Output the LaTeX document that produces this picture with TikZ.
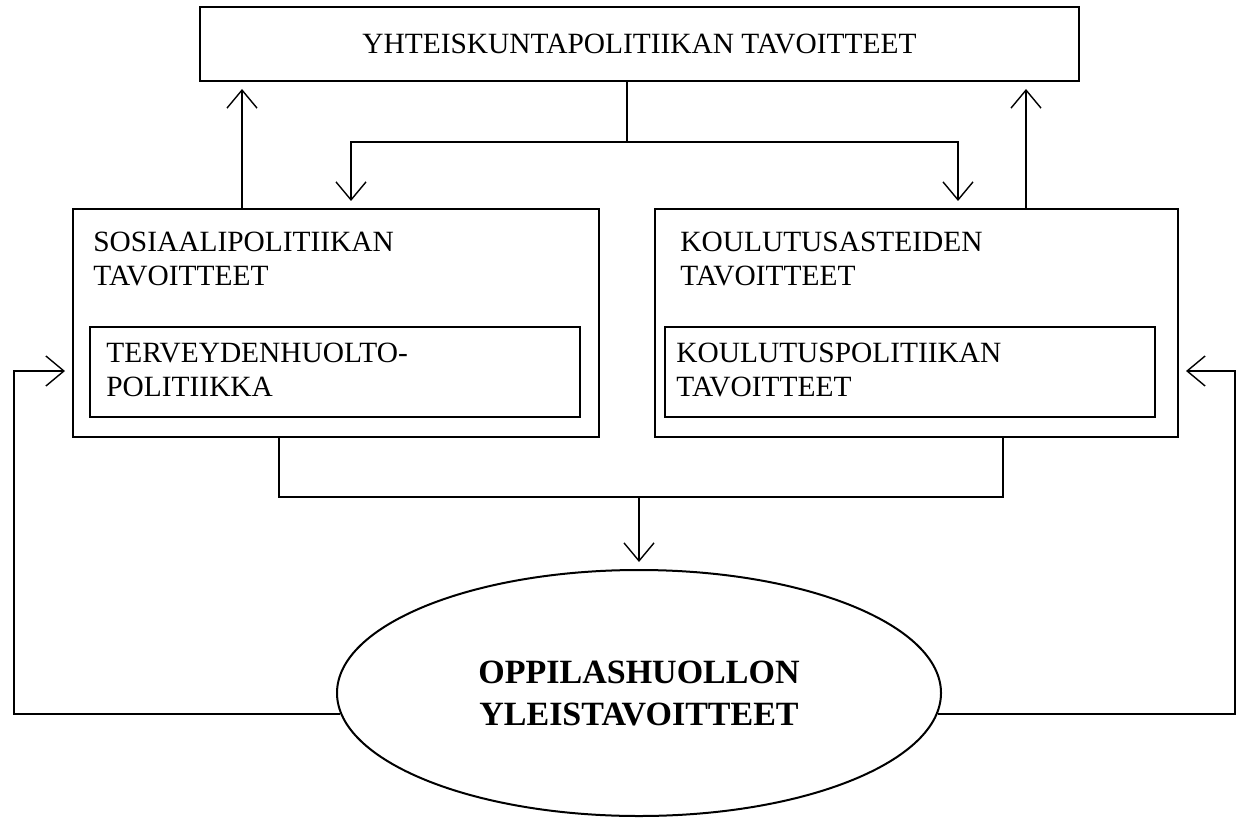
\documentclass[tikz,border=0pt]{standalone}
\usepackage{fontspec}
\setmainfont{Liberation Serif}
\usetikzlibrary{arrows.meta,shapes.geometric}

\tikzset{
  box/.style={draw, line width=1pt, inner sep=0pt},
  txt/.style={inner sep=0pt, align=left, anchor=north west,
    font=\fontsize{14.7}{17}\selectfont},
  arr/.style={-{Straight Barb[length=9pt,width=15pt,line width=0.7pt]},
    line width=1pt, shorten >=3.5pt}
}

\begin{document}
\begin{tikzpicture}[x=0.5pt, y=-0.5pt]
  \useasboundingbox (0,0) rectangle (1246,818);

  \node[box, minimum width=439.5pt, minimum height=37pt,
        font=\fontsize{14.7}{17}\selectfont] (top) at (639.5,44)
        {YHTEISKUNTAPOLITIIKAN TAVOITTEET};

  \node[box, minimum width=263pt, minimum height=114pt] (sos) at (336,323) {};
  \node[box, minimum width=261.5pt, minimum height=114pt] (kou) at (916.5,323) {};
  \node[box, minimum width=245pt, minimum height=45pt] (terv) at (335,372) {};
  \node[box, minimum width=245pt, minimum height=45pt] (kpol) at (910,372) {};

  \node[txt] (sostext) at (93,232) {SOSIAALIPOLITIIKAN\\TAVOITTEET};
  \node[txt] (koutext) at (680,232) {KOULUTUSASTEIDEN\\TAVOITTEET};
  \node[txt] (tervtext) at (106,343) {TERVEYDENHUOLTO-\\POLITIIKKA};
  \node[txt] (kpoltext) at (676,343) {KOULUTUSPOLITIIKAN\\TAVOITTEET};

  \node[ellipse, draw, line width=1pt, inner sep=0pt, align=center,
        minimum width=302pt, minimum height=123pt,
        font=\fontsize{17}{21}\selectfont\bfseries] (goal) at (639,693)
        {OPPILASHUOLLON\\YLEISTAVOITTEET};

  % helper points
  \coordinate (hub) at (627,142);
  \coordinate (lhub) at (351,142);
  \coordinate (rhub) at (958,142);
  \coordinate (lup) at (242,0);
  \coordinate (rup) at (1026,0);
  \coordinate (mid) at (639,497);
  \coordinate (lstem) at (279,0);
  \coordinate (rstem) at (1003,0);
  \coordinate (lback) at (14,371);
  \coordinate (rback) at (1235,371);

  \draw[line width=1pt] (top.south -| hub) -- (hub);
  \draw[arr] (hub) -| (lhub |- sos.north);
  \draw[arr] (hub) -| (rhub |- kou.north);
  \draw[arr] (sos.north -| lup) -- (top.south -| lup);
  \draw[arr] (kou.north -| rup) -- (top.south -| rup);

  \draw[line width=1pt] (sos.south -| lstem) |- (mid) -| (kou.south -| rstem);
  \draw[arr] (mid) -- (goal.north);

  \draw[arr] (goal.184) -| (lback) -- (sos.west |- lback);
  \draw[arr] (goal.356) -| (rback) -- (kou.east |- rback);
\end{tikzpicture}
\end{document}
